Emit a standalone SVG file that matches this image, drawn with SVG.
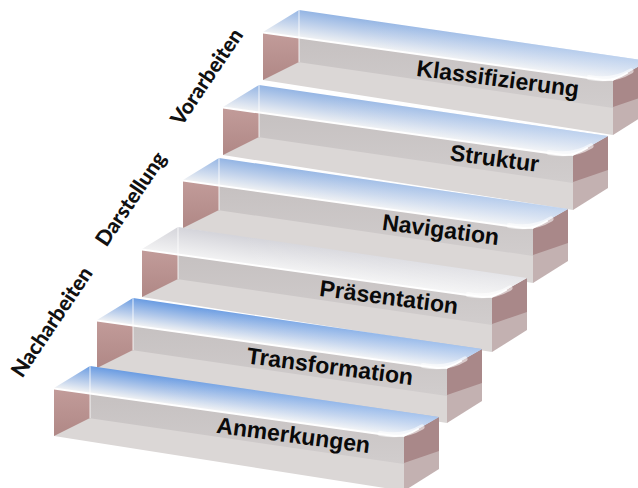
<svg xmlns="http://www.w3.org/2000/svg" width="638" height="488" viewBox="0 0 638 488">
  <defs>
    <style>
      .front-lo{fill:#dbd7d6}
      .front-hi{fill:url(#gFrontBand)}
      .end-l{fill:url(#gLeft)}
      .end-r-hi{fill:#a98889}
      .end-r-lo{fill:#c3b1b1}
      .hl{fill:none;stroke:#ffffff;stroke-width:2;stroke-linecap:round}
      .bevel{fill:none;stroke:#ffffff;stroke-opacity:.55;stroke-width:5;stroke-linecap:round}
      .edge{fill:none;stroke:#ffffff;stroke-opacity:.55;stroke-width:1.5}
      .lbl{font-family:"Liberation Sans",Arial,sans-serif;font-weight:bold;font-size:23px;fill:#0a0a0a;text-anchor:end}
      .phase{font-family:Lato,"Open Sans",sans-serif;font-weight:900;font-size:21px;fill:#111111;text-anchor:middle}
    </style>
    <linearGradient id="gFrontBand" x1="0" y1="0" x2="0" y2="1">
      <stop offset="0" stop-color="#c5c0c0"/>
      <stop offset="1" stop-color="#d1cdcd"/>
    </linearGradient>
    <linearGradient id="gLeft" x1="0" y1="0" x2="0" y2="1">
      <stop offset="0" stop-color="#c29c9a"/>
      <stop offset="1" stop-color="#b08886"/>
    </linearGradient>
    <!-- top faces: back edge to front edge -->
    <linearGradient id="gTopBlue" x1="0.5" y1="0.32" x2="0.32" y2="0.55">
      <stop offset="0" stop-color="#94b5e4"/>
      <stop offset="0.55" stop-color="#c4d4ec"/>
      <stop offset="1" stop-color="#eceff3"/>
    </linearGradient>
    <linearGradient id="gTopStrong" x1="0.5" y1="0.32" x2="0.32" y2="0.55">
      <stop offset="0" stop-color="#6a9ce2"/>
      <stop offset="0.55" stop-color="#b1c8ea"/>
      <stop offset="1" stop-color="#eceff3"/>
    </linearGradient>
    <linearGradient id="gTopPale" x1="0.5" y1="0.32" x2="0.32" y2="0.55">
      <stop offset="0" stop-color="#d4d4da"/>
      <stop offset="1" stop-color="#f1f1f2"/>
    </linearGradient>
    <linearGradient id="gTopFade" x1="0" y1="0" x2="1" y2="0">
      <stop offset="0.25" stop-color="#ffffff" stop-opacity="0"/>
      <stop offset="1" stop-color="#ffffff" stop-opacity="0.4"/>
    </linearGradient>

    <path id="topFace" d="M0,0 L36,-22 L385,29 L364,41 Q350,49 338,47.3 Z"/>

    <!-- faces of one step below its top -->
    <g id="stepBody">
      <path class="front-lo" d="M0,0 L350,49 L350,103 L0,48 Z"/>
      <path class="front-hi" d="M0,0 L350,49 L350,76 L0,25 Z"/>
      <path class="end-l" d="M0,0 L36,5 L36,30 L0,48 Z"/>
      <path class="end-r-lo" d="M350,49 L385,29 L385,81 L350,103 Z"/>
      <path class="end-r-hi" d="M350,49 L385,29 L385,63 L350,75 Z"/>
    </g>
    <!-- edge highlights drawn over the top face -->
    <g id="stepTrim">
      <path class="bevel" d="M326,45.5 Q350,50 368,39"/>
      <path class="hl" d="M0,0.5 L338,47.8 Q350,49.5 364,41"/>
      <path class="edge" d="M36,-22 L36,30"/>
    </g>
  </defs>

  <!-- phase labels -->
  <g id="phases">
    <text class="phase" transform="translate(207,77) rotate(-56)" y="7">Vorarbeiten</text>
    <text class="phase" transform="translate(131,199) rotate(-56)" y="7">Darstellung</text>
    <text class="phase" transform="translate(52,322) rotate(-56)" y="7">Nacharbeiten</text>
  </g>

  <g id="step-klassifizierung" transform="translate(263,32)">
    <use href="#stepBody"/>
    <use href="#topFace" fill="url(#gTopBlue)"/>
    <use href="#topFace" fill="url(#gTopFade)"/>
    <use href="#stepTrim"/>
    <text class="lbl" x="315" y="65" transform="rotate(7.5,315,65)">Klassifizierung</text>
  </g>

  <g id="step-struktur" transform="translate(223,107)">
    <use href="#stepBody"/>
    <use href="#topFace" fill="url(#gTopBlue)"/>
    <use href="#topFace" fill="url(#gTopFade)"/>
    <use href="#stepTrim"/>
    <text class="lbl" x="315" y="65" transform="rotate(7.5,315,65)">Struktur</text>
  </g>

  <g id="step-navigation" transform="translate(183,180)">
    <use href="#stepBody"/>
    <use href="#topFace" fill="url(#gTopBlue)"/>
    <use href="#topFace" fill="url(#gTopFade)"/>
    <use href="#stepTrim"/>
    <text class="lbl" x="315" y="65" transform="rotate(7.5,315,65)">Navigation</text>
  </g>

  <g id="step-praesentation" transform="translate(142,249)">
    <use href="#stepBody"/>
    <use href="#topFace" fill="url(#gTopPale)"/>
    <use href="#topFace" fill="url(#gTopFade)"/>
    <use href="#stepTrim"/>
    <text class="lbl" x="315" y="65" transform="rotate(7.5,315,65)">Präsentation</text>
  </g>

  <g id="step-transformation" transform="translate(97,320)">
    <use href="#stepBody"/>
    <use href="#topFace" fill="url(#gTopStrong)"/>
    <use href="#topFace" fill="url(#gTopFade)"/>
    <use href="#stepTrim"/>
    <text class="lbl" x="315" y="65" transform="rotate(7.5,315,65)">Transformation</text>
  </g>

  <g id="step-anmerkungen" transform="translate(54,388)">
    <use href="#stepBody"/>
    <use href="#topFace" fill="url(#gTopStrong)"/>
    <use href="#topFace" fill="url(#gTopFade)"/>
    <use href="#stepTrim"/>
    <text class="lbl" x="315" y="65" transform="rotate(7.5,315,65)">Anmerkungen</text>
  </g>
</svg>
